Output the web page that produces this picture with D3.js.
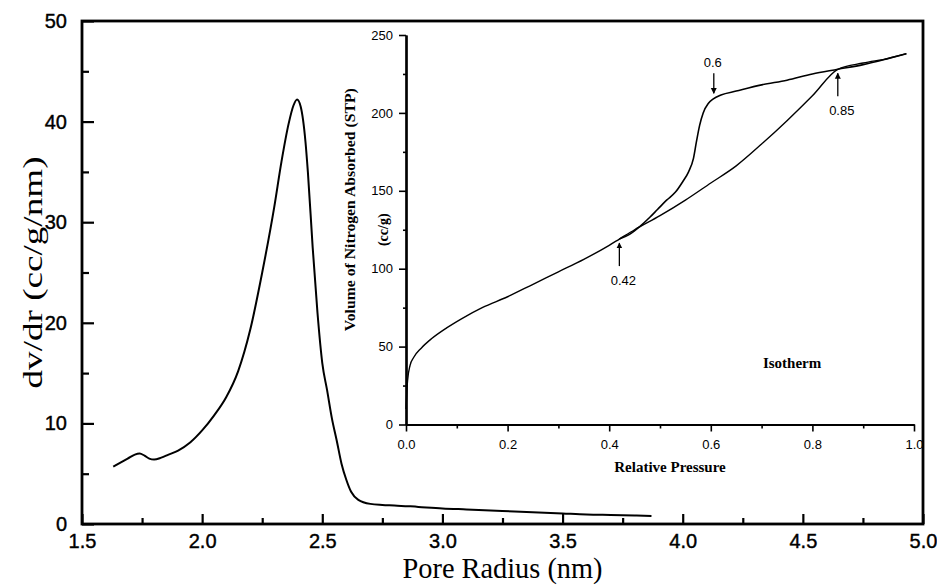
<!DOCTYPE html>
<html>
<head>
<meta charset="utf-8">
<script src="https://cdn.jsdelivr.net/npm/d3@7"></script>
<style>
  body { margin: 0; background: #fff; }
  .axis text { font-family: "Liberation Sans", Arial, sans-serif; fill: #000; }
  .axis line { stroke: #000; }
  .serif { font-family: "Liberation Serif", "Times New Roman", serif; fill: #000; }
</style>
</head>
<body>
<div id="chart"></div>
<script>
// pore size distribution (main plot)
const radius = [1.63, 1.66, 1.69, 1.72, 1.74, 1.76, 1.78, 1.80, 1.83, 1.86, 1.90, 1.95, 2.00, 2.05, 2.10, 2.15, 2.20,
                2.25, 2.30, 2.33, 2.36, 2.38, 2.395, 2.41, 2.43, 2.44, 2.46, 2.48, 2.50, 2.52, 2.54, 2.56, 2.58,
                2.60, 2.62, 2.65, 2.70, 2.75, 2.80, 2.90, 3.00, 3.10, 3.20, 3.30, 3.40, 3.50, 3.60, 3.70, 3.80, 3.87];
const dvdr = [5.7, 6.1, 6.5, 6.9, 7.0, 6.8, 6.5, 6.4, 6.6, 6.9, 7.3, 8.1, 9.3, 10.8, 12.6, 15.2, 19.3,
              25.0, 31.5, 36.0, 39.8, 41.6, 42.2, 41.5, 38.0, 35.0, 27.5, 21.0, 16.0, 13.3, 10.5, 8.3, 6.0,
              4.4, 3.2, 2.4, 2.0, 1.9, 1.85, 1.7, 1.55, 1.45, 1.35, 1.25, 1.15, 1.05, 0.95, 0.9, 0.85, 0.8];

// nitrogen isotherm (inset): adsorption and desorption branches
const adsP = [0.0, 0.003, 0.008, 0.015, 0.03, 0.05, 0.08, 0.11, 0.15, 0.20, 0.25, 0.30, 0.35, 0.40, 0.42,
              0.45, 0.50, 0.55, 0.60, 0.65, 0.70, 0.75, 0.80, 0.85, 0.90, 0.95, 0.985];
const adsV = [10, 28, 38, 43, 49, 55, 62, 68, 75, 82, 90, 98, 106, 115, 119,
              125, 134, 144, 155, 166, 180, 195, 211, 228, 232, 235, 238];
const desP = [0.985, 0.95, 0.90, 0.85, 0.80, 0.75, 0.70, 0.65, 0.62, 0.605, 0.595, 0.585, 0.578, 0.572,
              0.566, 0.556, 0.545, 0.53, 0.513, 0.495, 0.48, 0.46, 0.44, 0.42];
const desV = [238, 235, 231, 228, 225, 221, 218, 214, 211.5, 209, 206, 200, 192, 182,
              171, 162, 156, 149, 144, 138, 133, 127, 122, 119];

const mainXTicks = [1.5, 2.0, 2.5, 3.0, 3.5, 4.0, 4.5, 5.0];
const mainXMinor = [1.75, 2.25, 2.75, 3.25, 3.75, 4.25, 4.75];
const mainYTicks = [0, 10, 20, 30, 40, 50];
const mainYMinor = [5, 15, 25, 35, 45];
const insetXTicks = [0, 0.2, 0.4, 0.6, 0.8, 1.0];
const insetXMinor = [0.1, 0.3, 0.5, 0.7, 0.9];
const insetYTicks = [0, 50, 100, 150, 200, 250];
const insetYMinor = [25, 75, 125, 175, 225];

const notes = [
  { p: 0.6, v: 210, label: "0.6", dir: "down" },
  { p: 0.85, v: 228, label: "0.85", dir: "up" },
  { p: 0.42, v: 119, label: "0.42", dir: "up" }
];

const width = 937;
const height = 586;

let svg = d3.select("#chart").append("svg")
    .attr("width", width)
    .attr("height", height);

svg.append("defs").append("marker")
    .attr("id", "head")
    .attr("viewBox", "0 0 10 10")
    .attr("refX", 9).attr("refY", 5)
    .attr("markerWidth", 6).attr("markerHeight", 7)
    .attr("markerUnits", "userSpaceOnUse")
    .attr("orient", "auto")
    .append("path")
    .attr("d", "M0,0 L10,5 L0,10 Z")
    .attr("fill", "#000");

// ---------- main plot ----------
let x = d3.scaleLinear().domain([1.5, 5.0]).range([82, 923]);
let y = d3.scaleLinear().domain([0, 50]).range([524, 21]);

let gx = svg.append("g").attr("class", "axis")
    .attr("transform", `translate(0,${y(0)})`)
    .call(d3.axisBottom(x).tickValues(mainXTicks).tickFormat(d3.format(".1f"))
        .tickSize(-10).tickSizeOuter(0).tickPadding(10));
gx.selectAll("text").style("font-size", "20px").attr("stroke", "#000").attr("stroke-width", 0.4);
svg.append("g").attr("class", "axis")
    .attr("transform", `translate(0,${y(0)})`)
    .call(d3.axisBottom(x).tickValues(mainXMinor).tickFormat("").tickSize(-6).tickSizeOuter(0));

let gy = svg.append("g").attr("class", "axis")
    .attr("transform", `translate(${x(1.5)},0)`)
    .call(d3.axisLeft(y).tickValues(mainYTicks).tickFormat(d3.format("d"))
        .tickSize(-12).tickSizeOuter(0).tickPadding(15));
gy.selectAll("text").style("font-size", "20px").attr("stroke", "#000").attr("stroke-width", 0.4);
svg.append("g").attr("class", "axis")
    .attr("transform", `translate(${x(1.5)},0)`)
    .call(d3.axisLeft(y).tickValues(mainYMinor).tickFormat("").tickSize(-7).tickSizeOuter(0));

svg.selectAll(".axis .domain").remove();
svg.selectAll(".axis line").attr("stroke-width", 2.2);

svg.append("path")
    .datum(radius.map((r, i) => [r, dvdr[i]]))
    .attr("fill", "none")
    .attr("stroke", "#000")
    .attr("stroke-width", 2)
    .attr("d", d3.line().x(d => x(d[0])).y(d => y(d[1])).curve(d3.curveMonotoneX));

svg.append("text").attr("class", "serif")
    .attr("x", (x(1.5) + x(5.0)) / 2).attr("y", 578)
    .attr("text-anchor", "middle")
    .style("font-size", "29px")
    .attr("textLength", 200).attr("lengthAdjust", "spacingAndGlyphs")
    .text("Pore Radius (nm)");

svg.append("text").attr("class", "serif")
    .attr("transform", `translate(42,${(y(0) + y(50)) / 2}) rotate(-90)`)
    .attr("text-anchor", "middle")
    .style("font-size", "27px")
    .attr("textLength", 232).attr("lengthAdjust", "spacingAndGlyphs")
    .text("dv/dr (cc/g/nm)");

// ---------- inset isotherm ----------
let xi = d3.scaleLinear().domain([0, 1]).range([406, 914]);
let yi = d3.scaleLinear().domain([0, 250]).range([424.5, 35]);

svg.append("g").attr("class", "axis inset")
    .attr("transform", `translate(0,${yi(0)})`)
    .call(d3.axisBottom(xi).tickValues(insetXTicks).tickFormat(d3.format(".1f"))
        .tickSize(7).tickSizeOuter(0).tickPadding(8));
svg.append("g").attr("class", "axis inset")
    .attr("transform", `translate(0,${yi(0)})`)
    .call(d3.axisBottom(xi).tickValues(insetXMinor).tickFormat("").tickSize(4).tickSizeOuter(0));

svg.append("g").attr("class", "axis inset")
    .attr("transform", `translate(${xi(0)},0)`)
    .call(d3.axisLeft(yi).tickValues(insetYTicks).tickFormat(d3.format("d"))
        .tickSize(7).tickSizeOuter(0).tickPadding(6));
svg.append("g").attr("class", "axis inset")
    .attr("transform", `translate(${xi(0)},0)`)
    .call(d3.axisLeft(yi).tickValues(insetYMinor).tickFormat("").tickSize(3).tickSizeOuter(0));

svg.selectAll(".inset text").style("font-size", "13px");
svg.selectAll(".inset line").attr("stroke-width", 1.6);
svg.selectAll(".inset .domain").attr("stroke", "#000").attr("stroke-width", 2.2);

let iline = d3.line().x(d => xi(d[0])).y(d => yi(d[1])).curve(d3.curveMonotoneX);
svg.append("path")
    .datum(adsP.map((p, i) => [p, adsV[i]]))
    .attr("fill", "none").attr("stroke", "#000").attr("stroke-width", 1.4)
    .attr("d", iline);
svg.append("path")
    .datum(desP.map((p, i) => [p, desV[i]]).reverse())
    .attr("fill", "none").attr("stroke", "#000").attr("stroke-width", 1.6)
    .attr("d", iline);

// annotation arrows
notes.forEach(n => {
    const px = xi(n.p), py = yi(n.v);
    const down = n.dir === "down";
    svg.append("line")
        .attr("x1", down ? px + 3 : px).attr("y1", down ? py - 24 : py + 27)
        .attr("x2", down ? px + 3 : px).attr("y2", down ? py - 4 : py + 4)
        .attr("stroke", "#000").attr("stroke-width", 1.3).attr("marker-end", "url(#head)");
    svg.append("text")
        .attr("x", down ? px + 2 : px + 4).attr("y", down ? py - 30 : py + 46)
        .attr("text-anchor", "middle").style("font-size", "13px")
        .style("font-family", "Liberation Sans").attr("fill", "#000")
        .text(n.label);
});

svg.append("text").attr("class", "serif")
    .attr("transform", `translate(355,${(yi(0) + yi(250)) / 2 - 20}) rotate(-90)`)
    .attr("text-anchor", "middle")
    .style("font-size", "14px").style("font-weight", "bold")
    .attr("textLength", 243).attr("lengthAdjust", "spacingAndGlyphs")
    .text("Volume of Nitrogen Absorbed (STP)");
svg.append("text").attr("class", "serif")
    .attr("transform", `translate(388,${(yi(0) + yi(250)) / 2}) rotate(-90)`)
    .attr("text-anchor", "middle")
    .style("font-size", "14px").style("font-weight", "bold")
    .text("(cc/g)");

svg.append("text").attr("class", "serif")
    .attr("x", 670).attr("y", 472)
    .attr("text-anchor", "middle")
    .style("font-size", "15px").style("font-weight", "bold")
    .text("Relative Pressure");

svg.append("text").attr("class", "serif")
    .attr("x", xi(0.76)).attr("y", 368)
    .attr("text-anchor", "middle")
    .style("font-size", "15px").style("font-weight", "bold")
    .text("Isotherm");

// frame of the main plot, drawn last
svg.append("rect")
    .attr("x", x(1.5)).attr("y", y(50))
    .attr("width", x(5.0) - x(1.5)).attr("height", y(0) - y(50))
    .attr("fill", "none").attr("stroke", "#000").attr("stroke-width", 2.8);
</script>
</body>
</html>
